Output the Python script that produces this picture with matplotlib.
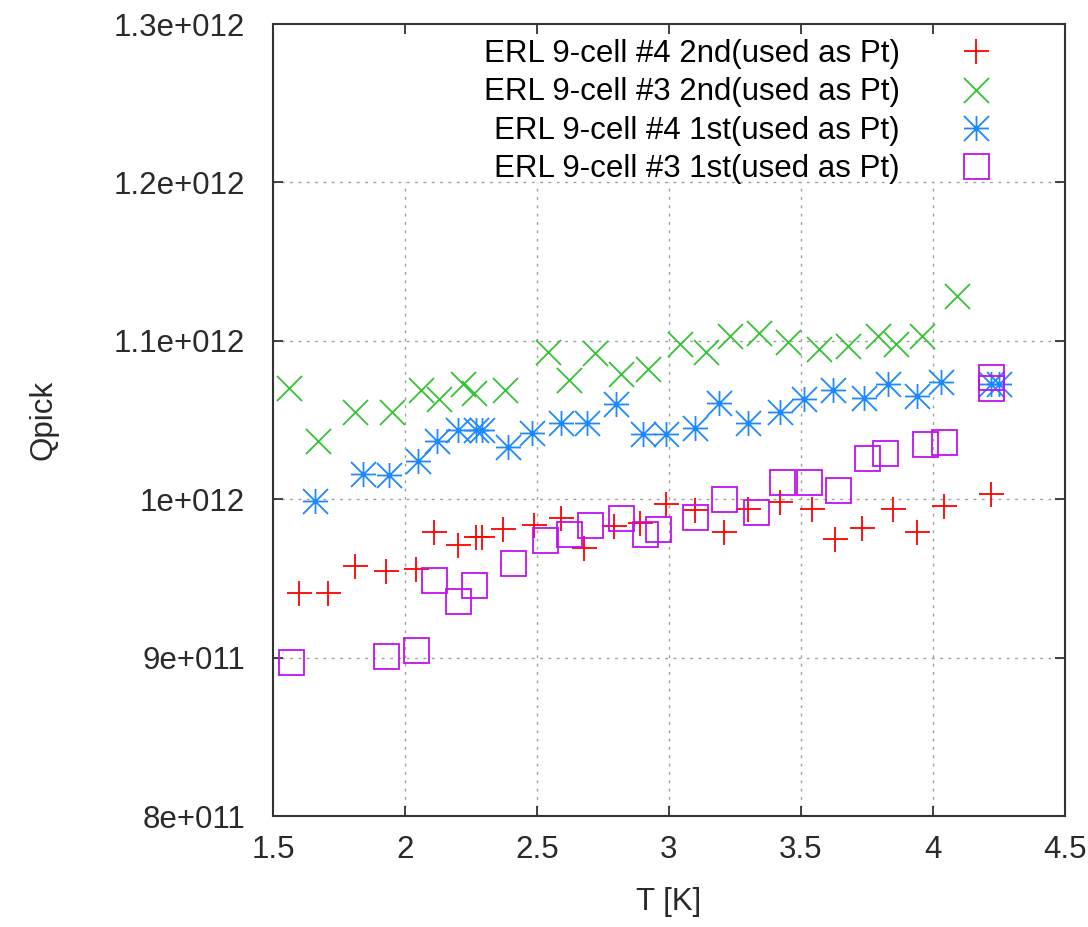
import numpy as np
import matplotlib
matplotlib.use("Agg")
from matplotlib import pyplot as plt
from matplotlib.path import Path

plt.rcParams['font.family'] = ['Liberation Sans', 'DejaVu Sans']

# Qpick values are in units of 1e12
t_4_2nd = [1.60, 1.71, 1.81, 1.93, 2.04, 2.11, 2.20, 2.27, 2.29, 2.37, 2.49, 2.59, 2.68, 2.79,
           2.89, 2.99, 3.10, 3.21, 3.30, 3.42, 3.54, 3.63, 3.73, 3.85, 3.94, 4.04, 4.22]
q_4_2nd = [0.941, 0.941, 0.958, 0.955, 0.956, 0.979, 0.971, 0.976, 0.976, 0.981, 0.984, 0.988, 0.969, 0.983,
           0.985, 0.997, 0.993, 0.979, 0.994, 0.998, 0.994, 0.975, 0.982, 0.994, 0.979, 0.996, 1.003]

t_3_2nd = [1.56, 1.67, 1.81, 1.95, 2.06, 2.13, 2.22, 2.26, 2.38, 2.54, 2.62, 2.72, 2.82,
           2.92, 3.04, 3.14, 3.23, 3.34, 3.45, 3.57, 3.68, 3.79, 3.86, 3.96, 4.09]
q_3_2nd = [1.070, 1.037, 1.055, 1.055, 1.069, 1.063, 1.073, 1.067, 1.069, 1.093, 1.075, 1.092, 1.079,
           1.082, 1.098, 1.093, 1.103, 1.105, 1.099, 1.095, 1.097, 1.103, 1.098, 1.103, 1.128]

t_4_1st = [1.66, 1.84, 1.94, 2.05, 2.12, 2.20, 2.27, 2.29, 2.39, 2.48, 2.59, 2.69, 2.80, 2.90,
           2.99, 3.10, 3.19, 3.30, 3.42, 3.51, 3.62, 3.74, 3.83, 3.94, 4.03, 4.22, 4.25]
q_4_1st = [0.999, 1.016, 1.015, 1.024, 1.037, 1.044, 1.044, 1.044, 1.033, 1.042, 1.048, 1.048, 1.060, 1.041,
           1.041, 1.045, 1.061, 1.048, 1.055, 1.063, 1.069, 1.064, 1.073, 1.065, 1.074, 1.073, 1.073]

t_3_1st = [1.57, 1.93, 2.04, 2.11, 2.20, 2.26, 2.41, 2.53, 2.62, 2.70, 2.82, 2.91, 2.96,
           3.10, 3.21, 3.33, 3.43, 3.53, 3.64, 3.75, 3.82, 3.97, 4.04, 4.22, 4.22]
q_3_1st = [0.897, 0.901, 0.905, 0.949, 0.936, 0.946, 0.960, 0.974, 0.978, 0.984, 0.988, 0.978, 0.981,
           0.989, 1.000, 0.992, 1.011, 1.011, 1.006, 1.026, 1.029, 1.035, 1.036, 1.077, 1.070]

labels = ["ERL 9-cell #4 2nd(used as Pt)", "ERL 9-cell #3 2nd(used as Pt)",
          "ERL 9-cell #4 1st(used as Pt)", "ERL 9-cell #3 1st(used as Pt)"]

x_ticks = [1.5, 2, 2.5, 3, 3.5, 4, 4.5]
x_ticklabels = ["1.5", "2", "2.5", "3", "3.5", "4", "4.5"]
y_ticks = [8e11, 9e11, 1.0e12, 1.1e12, 1.2e12, 1.3e12]
y_ticklabels = ["8e+011", "9e+011", "1e+012", "1.1e+012", "1.2e+012", "1.3e+012"]

# gnuplot style asterisk: plus and cross in one marker
asterisk = Path([(-1, 0), (1, 0), (0, -1), (0, 1), (-1, -1), (1, 1), (-1, 1), (1, -1)],
                [Path.MOVETO, Path.LINETO] * 4)

fig = plt.figure(figsize=(10.88, 9.27), dpi=100)
ax = fig.add_axes([0.2509, 0.1197, 0.7279, 0.8544])

ms = 18
mew = 1.3
blue = '#1e88ff'
h1, = ax.plot(t_4_2nd, np.array(q_4_2nd) * 1e12, ls='none', marker='+', ms=ms, mew=mew,
              color='#ff0000')
h2, = ax.plot(t_3_2nd, np.array(q_3_2nd) * 1e12, ls='none', marker='x', ms=ms, mew=mew,
              color='#33c333')
h3, = ax.plot(t_4_1st, np.array(q_4_1st) * 1e12, ls='none', marker=asterisk, ms=ms, mew=mew,
              color=blue)
h3d, = ax.plot(t_4_1st, np.array(q_4_1st) * 1e12, ls='none', marker='o', ms=4, mew=0,
               color=blue)
h4, = ax.plot(t_3_1st, np.array(q_3_1st) * 1e12, ls='none', marker='s', ms=ms, mew=mew,
              mfc='none', mec='#c010f0', color='#c010f0')

ax.set_xlim(x_ticks[0], x_ticks[-1])
ax.set_ylim(y_ticks[0], y_ticks[-1])
ax.set_xticks(x_ticks)
ax.set_xticklabels(x_ticklabels)
ax.set_yticks(y_ticks)
ax.set_yticklabels(y_ticklabels)

# grid: vertical lines stop at the key area (1.2e12)
grid_kw = dict(color='#a0a0a0', lw=1.0, ls=(0, (2, 4)), zorder=0)
ax.hlines(y_ticks[1:-1], x_ticks[0], x_ticks[-1], **grid_kw)
ax.vlines(x_ticks[1:-1], y_ticks[0], y_ticks[-2], **grid_kw)

for s in ax.spines.values():
    s.set_linewidth(1.5)
    s.set_color('#333333')
ax.tick_params(direction='in', top=True, right=True, length=7, width=1.3,
               color='#333333', labelsize=22.5, labelcolor='#2a2a2a')
ax.tick_params(axis='y', pad=20)
ax.tick_params(axis='x', pad=14)

ax.set_xlabel("T [K]", fontsize=22.5, color='#2a2a2a')
ax.xaxis.set_label_coords(0.5, -0.09)
ax.set_ylabel("Qpick", fontsize=22.5, color='#2a2a2a')
ax.yaxis.set_label_coords(-0.271, 0.5)

ax.legend([h1, h2, (h3, h3d), h4], labels,
          loc='upper right', bbox_to_anchor=(0.927, 0.981), frameon=False,
          markerfirst=False, fontsize=22.5, numpoints=1, handlelength=2,
          handletextpad=1.44, borderpad=0, borderaxespad=0, labelspacing=0.27)

plt.savefig('out.png')
